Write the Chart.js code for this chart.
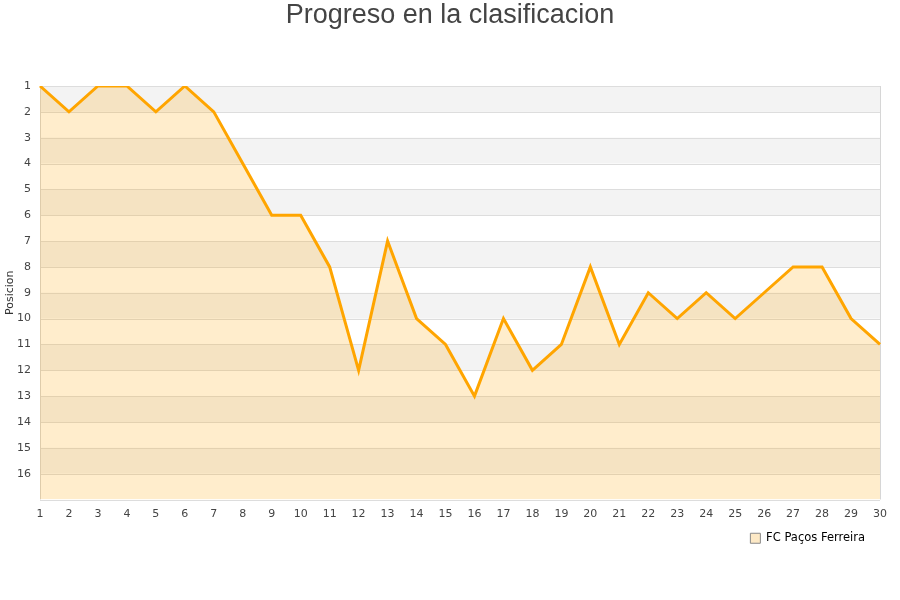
<!DOCTYPE html>
<html>
<head>
<meta charset="utf-8">
<script src="https://cdn.jsdelivr.net/npm/chart.js@4.4.0/dist/chart.umd.min.js"></script>
<style>
  body { margin: 0; background: #fff; }
  #wrap { width: 900px; height: 600px; }
</style>
</head>
<body>
<div id="wrap"><canvas id="grafico"></canvas></div>
<script>
let jornadas = [1,2,3,4,5,6,7,8,9,10,11,12,13,14,15,16,17,18,19,20,21,22,23,24,25,26,27,28,29,30];
let posiciones = [1,2,1,1,2,1,2,4,6,6,8,12,7,10,11,13,10,12,11,8,11,9,10,9,10,9,8,8,10,11];
let equipo = 'FC Paços Ferreira';
let titulo = 'Progreso en la clasificacion';
let numEquipos = 16;

// franjas grises alternas detras de la linea
let franjas = {
    id: 'franjas',
    beforeDatasetsDraw(chart) {
        let ctx = chart.ctx;
        let area = chart.chartArea;
        let y = chart.scales.y;
        ctx.save();
        ctx.fillStyle = '#f3f3f3';
        for (let p = 1; p <= numEquipos; p += 2) {
            let top = y.getPixelForValue(p);
            let bot = y.getPixelForValue(p + 1);
            ctx.fillRect(area.left, top, area.right - area.left, bot - top);
        }
        ctx.strokeStyle = '#dddddd';
        ctx.lineWidth = 1;
        for (let p = 1; p <= numEquipos + 1; p++) {
            let py = Math.round(y.getPixelForValue(p)) + 0.5;
            ctx.beginPath();
            ctx.moveTo(area.left, py);
            ctx.lineTo(area.right, py);
            ctx.stroke();
        }
        ctx.strokeStyle = '#d6d6d6';
        ctx.beginPath();
        ctx.moveTo(Math.round(area.right) + 0.5, area.top);
        ctx.lineTo(Math.round(area.right) + 0.5, area.bottom);
        ctx.moveTo(Math.round(area.left) + 0.5, area.top);
        ctx.lineTo(Math.round(area.left) + 0.5, area.bottom);
        ctx.stroke();
        ctx.restore();
    }
};

// titulo centrado sobre todo el lienzo
let tituloCentrado = {
    id: 'tituloCentrado',
    afterDraw(chart) {
        let ctx = chart.ctx;
        ctx.save();
        ctx.font = '27px "Liberation Sans"';
        ctx.fillStyle = '#444444';
        ctx.textAlign = 'center';
        ctx.textBaseline = 'middle';
        ctx.fillText(titulo, chart.width / 2, 16);
        ctx.restore();
    }
};

let grafica = document.getElementById('grafico').getContext('2d');
let parametros = {
    type: 'line',
    data: {
        labels: jornadas,
        datasets: [
            {
                label: equipo,
                data: posiciones,
                borderColor: '#ffa500',
                backgroundColor: 'rgba(255,165,0,0.2)',
                borderWidth: 3,
                pointRadius: 0,
                tension: 0,
                fill: { value: numEquipos + 1 }
            }
        ]
    },
    options: {
        responsive: true,
        maintainAspectRatio: false,
        animation: false,
        layout: { padding: { left: 0, right: 20, top: 86, bottom: 46 } },
        plugins: {
            title: { display: false },
            legend: {
                position: 'bottom',
                align: 'end',
                labels: {
                    boxWidth: 10,
                    boxHeight: 10,
                    padding: 15,
                    color: '#000000',
                    font: { family: 'DejaVu Sans', size: 11.5 },
                    generateLabels() {
                        return [{
                            text: equipo,
                            fillStyle: '#fde9c6',
                            strokeStyle: '#888888',
                            lineWidth: 1,
                            datasetIndex: 0
                        }];
                    }
                }
            },
            tooltip: { enabled: false }
        },
        scales: {
            x: {
                grid: { display: false, drawTicks: false },
                border: { display: false },
                afterFit: s => { s.height = 18; },
                ticks: {
                    color: '#444444',
                    font: { family: 'DejaVu Sans', size: 11 },
                    maxRotation: 0,
                    autoSkip: false,
                    padding: 8
                }
            },
            y: {
                reverse: true,
                min: 1,
                max: numEquipos + 1,
                grid: { display: false, drawTicks: false },
                border: { display: false },
                afterFit: s => { s.width = 40; },
                title: {
                    display: true,
                    text: 'Posicion',
                    color: '#333333',
                    font: { family: 'DejaVu Sans', size: 11 },
                    padding: { top: 4, bottom: 4 }
                },
                ticks: {
                    stepSize: 1,
                    color: '#444444',
                    font: { family: 'DejaVu Sans', size: 11 },
                    padding: 9,
                    callback: v => v > numEquipos ? '' : v
                }
            }
        }
    },
    plugins: [franjas, tituloCentrado]
};
var chart = new Chart(grafica, parametros);
</script>
</body>
</html>
